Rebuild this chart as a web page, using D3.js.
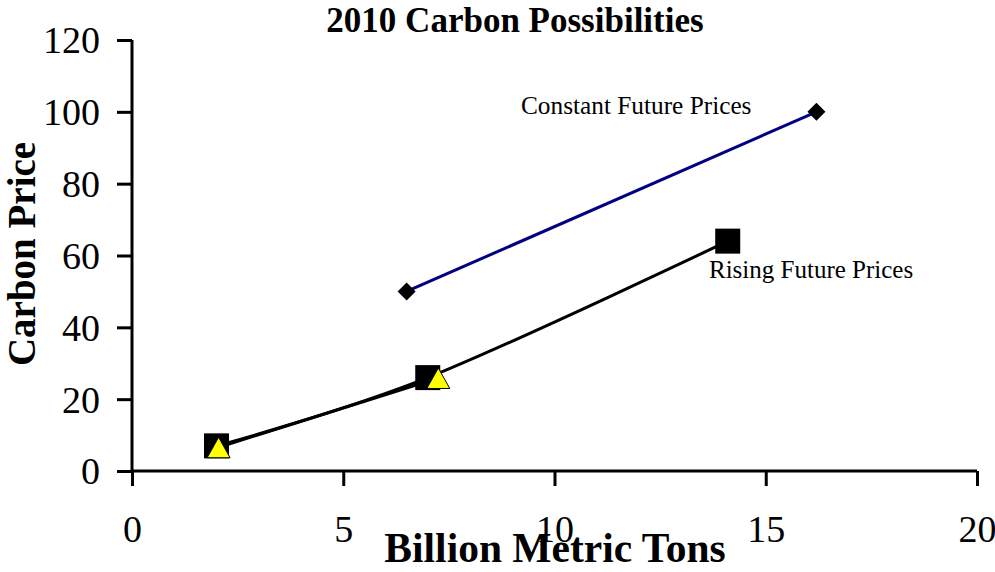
<!DOCTYPE html>
<html>
<head>
<meta charset="utf-8">
<script src="https://cdn.jsdelivr.net/npm/d3@7"></script>
<style>
  html, body { margin: 0; padding: 0; background: #fff; }
  svg { display: block; }
  text { font-family: "Liberation Serif", "Times New Roman", serif; fill: #000; }
</style>
</head>
<body>
<svg id="chart" width="995" height="572"></svg>
<script>
// Series values
const constantX = [6.5, 16.2];
const constantY = [50, 100];
const risingX = [2, 7, 14.1];
const risingY = [7, 26, 64];
const triangleX = [2.05, 7.25];
const triangleY = [6.6, 25.9];

// Tick values
const xTicks = [0, 5, 10, 15, 20];
const yTicks = [0, 20, 40, 60, 80, 100, 120];

const svg = d3.select("#chart");

const x = d3.scaleLinear().domain([0, 20]).range([132, 977]);
const y = d3.scaleLinear().domain([0, 120]).range([471, 40]);

// Title
svg.append("text")
  .attr("x", 515).attr("y", 32)
  .attr("text-anchor", "middle")
  .attr("font-weight", "bold")
  .attr("font-size", 35)
  .text("2010 Carbon Possibilities");

// Axes
const xAxis = d3.axisBottom(x).tickValues(xTicks).tickSize(15).tickPadding(56).tickFormat(d3.format("d"));
const yAxis = d3.axisLeft(y).tickValues(yTicks).tickSize(15).tickPadding(17).tickFormat(d3.format("d"));

const gx = svg.append("g").attr("transform", `translate(0,${y(0)})`).call(xAxis);
const gy = svg.append("g").attr("transform", `translate(${x(0)},0)`).call(yAxis);

[gx, gy].forEach(g => {
  g.select(".domain").attr("stroke", "#000").attr("stroke-width", 3)
    .attr("d", g === gx ? `M${x(0)},0H${x(20)}` : `M0,${y(120)}V${y(0)}`);
  g.selectAll(".tick line").attr("stroke", "#000").attr("stroke-width", 3);
  g.selectAll(".tick text")
    .style("font-family", '"Liberation Serif", "Times New Roman", serif')
    .attr("font-size", 38)
    .attr("fill", "#000");
});
gx.selectAll(".tick text").attr("dy", "0");
gy.selectAll(".tick text").attr("dy", "0.34em");

// Axis titles
svg.append("text")
  .attr("x", 555).attr("y", 562)
  .attr("text-anchor", "middle")
  .attr("font-weight", "bold")
  .attr("font-size", 41.5)
  .text("Billion Metric Tons");

svg.append("text")
  .attr("transform", "translate(35,254) rotate(-90)")
  .attr("text-anchor", "middle")
  .attr("font-weight", "bold")
  .attr("font-size", 39)
  .text("Carbon Price");

// Constant future prices: straight navy line with diamond markers
const constPts = constantX.map((d, i) => [d, constantY[i]]);
svg.append("path")
  .datum(constPts)
  .attr("fill", "none")
  .attr("stroke", "#000080")
  .attr("stroke-width", 3)
  .attr("d", d3.line().x(d => x(d[0])).y(d => y(d[1])));

svg.selectAll(".diamond")
  .data(constPts)
  .join("path")
  .attr("class", "diamond")
  .attr("transform", d => `translate(${x(d[0])},${y(d[1])})`)
  .attr("d", "M0,-9L9,0L0,9L-9,0Z")
  .attr("fill", "#000");

// Rising future prices: smoothed black line with square markers
const risingPts = risingX.map((d, i) => [d, risingY[i]]);
svg.append("path")
  .datum(risingPts)
  .attr("fill", "none")
  .attr("stroke", "#000")
  .attr("stroke-width", 3)
  .attr("d", d3.line().curve(d3.curveCatmullRom.alpha(0)).x(d => x(d[0])).y(d => y(d[1])));

svg.selectAll(".square")
  .data(risingPts)
  .join("rect")
  .attr("class", "square")
  .attr("x", d => x(d[0]) - 12.5)
  .attr("y", d => y(d[1]) - 12.5)
  .attr("width", 25).attr("height", 25)
  .attr("fill", "#000");

// Third series: triangles
const triPts = triangleX.map((d, i) => [d, triangleY[i]]);
svg.append("path")
  .datum(triPts)
  .attr("fill", "none")
  .attr("stroke", "#000")
  .attr("stroke-width", 3)
  .attr("d", d3.line().x(d => x(d[0])).y(d => y(d[1])));

svg.selectAll(".tri")
  .data(triPts)
  .join("path")
  .attr("class", "tri")
  .attr("transform", d => `translate(${x(d[0])},${y(d[1])})`)
  .attr("d", "M0,-10L11.5,10.5L-11.5,10.5Z")
  .attr("fill", "#ffff00")
  .attr("stroke", "#000")
  .attr("stroke-width", 1);

// Series labels
svg.append("text")
  .attr("x", 521).attr("y", 114)
  .attr("font-size", 25.3)
  .text("Constant Future Prices");

svg.append("text")
  .attr("x", 709).attr("y", 278)
  .attr("font-size", 25)
  .text("Rising Future Prices");
</script>
</body>
</html>
